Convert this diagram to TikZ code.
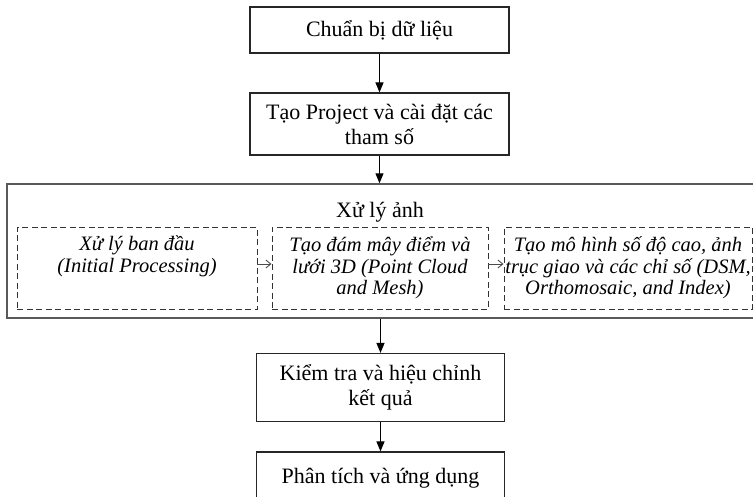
\documentclass[tikz,border=0pt]{standalone}
\usepackage{fontspec}
\setmainfont{Liberation Serif}
\usepackage{tikz}
\usetikzlibrary{arrows.meta,positioning}

\begin{document}
\begin{tikzpicture}[x=1pt, y=-1pt,
  stepbox/.style={rectangle, draw=black!85, line width=1.2pt, align=center, inner sep=2pt,
    font=\fontsize{22}{25}\selectfont},
  stagebox/.style={rectangle, draw=black!80, line width=0.9pt, dash pattern=on 6pt off 3.5pt,
    align=center, inner xsep=0pt, minimum height=82pt,
    font=\fontsize{20.5}{21.5}\selectfont\itshape},
  flow/.style={line width=1.1pt, -{Triangle[length=10pt,width=8pt]}},
  link/.style={black!70, line width=0.9pt, -{Straight Barb[length=5pt,width=8pt]}}]
\useasboundingbox (0,0) rectangle (753,496);

\node[stepbox, minimum width=259pt, minimum height=46pt] (prep) at (379.5,30) {Chuẩn bị dữ liệu};
\node[stepbox, minimum width=259pt, minimum height=62pt] (setup) at (379.5,124) {Tạo Project và cài đặt các\\ tham số};

\node[rectangle, draw=black!65, line width=1.5pt, minimum width=752pt, minimum height=134pt] (proc) at (383,251) {};
\node[font=\fontsize{22}{24}\selectfont] (proctitle) at (380,212) {Xử lý ảnh};
\node[stagebox, minimum width=240pt] (init) at (137,268) {Xử lý ban đầu\\ (Initial Processing)\\ \strut};
\node[stagebox, minimum width=216pt] (cloud) at (380,268) {Tạo đám mây điểm và\\ lưới 3D (Point Cloud\\ and Mesh)};
\node[stagebox, minimum width=248pt] (dsm) at (628,268) {Tạo mô hình số độ cao, ảnh\\ trục giao và các chỉ số (DSM,\\ Orthomosaic, and Index)};

\node[stepbox, minimum width=248pt, minimum height=68pt] (check) at (380.5,387.5) {Kiểm tra và hiệu chỉnh\\ kết quả};
\node[stepbox, minimum width=248pt, minimum height=52pt] (result) at (380.5,478) {Phân tích và ứng dụng};

\draw[flow] (prep) -- (setup);
\draw[flow] (setup) -- (setup |- proc.north);
\draw[link] ([yshift=4pt]init.east) -- ([yshift=4pt]cloud.west);
\draw[link] ([yshift=4pt]cloud.east) -- ([yshift=4pt]dsm.west);
\draw[flow] (check |- proc.south) -- (check);
\draw[flow] (check) -- (result);
\end{tikzpicture}
\end{document}
